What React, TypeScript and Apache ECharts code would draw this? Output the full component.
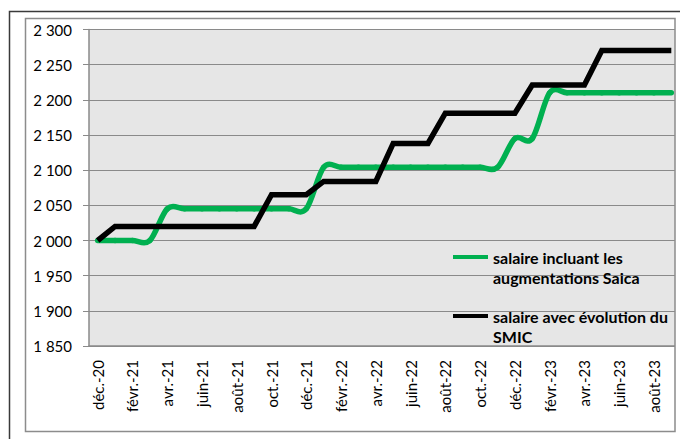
import React, { useEffect, useRef } from "react";
import * as echarts from "echarts";

const months = [
  "déc.-20", "janv.-21", "févr.-21", "mars-21", "avr.-21", "mai-21", "juin-21", "juil.-21",
  "août-21", "sept.-21", "oct.-21", "nov.-21", "déc.-21", "janv.-22", "févr.-22", "mars-22",
  "avr.-22", "mai-22", "juin-22", "juil.-22", "août-22", "sept.-22", "oct.-22", "nov.-22",
  "déc.-22", "janv.-23", "févr.-23", "mars-23", "avr.-23", "mai-23", "juin-23", "juil.-23",
  "août-23", "sept.-23",
];

const saicaName = "salaire incluant les augmentations Saica";
const smicName = "salaire avec évolution du SMIC";

const saica = [
  2000, 2000, 2000, 2000, 2045, 2045, 2045, 2045,
  2045, 2045, 2045, 2045, 2045, 2104, 2104, 2104,
  2104, 2104, 2104, 2104, 2104, 2104, 2104, 2104,
  2145, 2145, 2210, 2210, 2210, 2210, 2210, 2210,
  2210, 2210,
];

const smic = [
  2000, 2020, 2020, 2020, 2020, 2020, 2020, 2020,
  2020, 2020, 2065, 2065, 2065, 2084, 2084, 2084,
  2084, 2138, 2138, 2138, 2181, 2181, 2181, 2181,
  2181, 2221, 2221, 2221, 2221, 2270, 2270, 2270,
  2270, 2270,
];

const yMin = 1850;
const yMax = 2300;
const yStep = 50;

const legendLines: Record<string, string> = {
  [saicaName]: "salaire incluant les\naugmentations Saica",
  [smicName]: "salaire avec évolution du\nSMIC",
};

const FONT = "Lato";
const GREEN = "#00b050";

export default function App() {
  const ref = useRef<HTMLDivElement>(null);
  useEffect(() => {
    if (!ref.current) return;
    const chart = echarts.init(ref.current, null, { renderer: "svg" });
    const legendBase = {
      orient: "vertical",
      left: 453,
      padding: 0,
      itemWidth: 35,
      itemHeight: 4,
      icon: "rect",
      itemGap: 0,
      formatter: (n: string) => "\n" + legendLines[n],
      textStyle: {
        fontFamily: FONT,
        fontWeight: "bold",
        fontSize: 16,
        lineHeight: 20,
        color: "#000",
      },
    };
    const n = saica.length;
    chart.setOption({
      animation: false,
      backgroundColor: "#fff",
      textStyle: { fontFamily: FONT },
      grid: {
        left: 89,
        top: 29.5,
        width: 595,
        height: 316.5,
        show: true,
        backgroundColor: "#e6e6e6",
        borderWidth: 0,
      },
      legend: [
        { ...legendBase, top: 227, data: [saicaName] },
        { ...legendBase, top: 286, data: [smicName] },
      ],
      xAxis: {
        type: "category",
        data: months,
        boundaryGap: true,
        axisLine: { lineStyle: { color: "#8a8a8a", width: 1.5 } },
        axisTick: { interval: 1, length: 4, lineStyle: { color: "#8a8a8a" } },
        axisLabel: {
          interval: 1,
          rotate: 90,
          margin: 14,
          fontFamily: FONT,
          fontSize: 15,
          color: "#000",
        },
        splitLine: { show: false },
      },
      yAxis: {
        type: "value",
        min: yMin,
        max: yMax,
        interval: yStep,
        axisLine: { show: true, lineStyle: { color: "#8a8a8a", width: 1.5 } },
        axisTick: { show: true, length: 6, lineStyle: { color: "#8a8a8a" } },
        axisLabel: {
          margin: 17,
          fontFamily: FONT,
          fontSize: 15,
          color: "#000",
          formatter: (v: number) => String(v).replace(/\B(?=(\d{3})+(?!\d))/g, " "),
        },
        splitLine: { show: true, lineStyle: { color: "#8a8a8a", width: 1.2 } },
      },
      series: [
        {
          name: saicaName,
          type: "custom",
          data: saica.map((v, i) => [i, v]),
          encode: { x: 0, y: 1 },
          itemStyle: { color: GREEN },
          z: 2,
          renderItem: (params: any, api: any) => {
            const i = params.dataIndex;
            if (i >= n - 1) return null;
            const pt = (k: number) => {
              const kk = Math.max(0, Math.min(n - 1, k));
              return api.coord([kk, saica[kk]]);
            };
            const p0 = pt(i - 1);
            const p1 = pt(i);
            const p2 = pt(i + 1);
            const p3 = pt(i + 2);
            const t = 1 / 6;
            return {
              type: "bezierCurve",
              shape: {
                x1: p1[0],
                y1: p1[1],
                x2: p2[0],
                y2: p2[1],
                cpx1: p1[0] + (p2[0] - p0[0]) * t,
                cpy1: p1[1] + (p2[1] - p0[1]) * t,
                cpx2: p2[0] - (p3[0] - p1[0]) * t,
                cpy2: p2[1] - (p3[1] - p1[1]) * t,
              },
              style: {
                fill: null,
                stroke: GREEN,
                lineWidth: 5.5,
                lineCap: "round",
              },
            };
          },
        },
        {
          name: smicName,
          type: "line",
          data: smic,
          smooth: false,
          showSymbol: false,
          symbol: "none",
          z: 3,
          itemStyle: { color: "#000" },
          lineStyle: { color: "#000", width: 5.5, join: "miter" },
        },
      ],
      graphic: [
        {
          type: "rect",
          z: 100,
          shape: { x: 675, y: 14, width: 10, height: 430 },
          style: { fill: "#fff" },
        },
        {
          type: "rect",
          z: 101,
          shape: { x: 25.5, y: 18.5, width: 649.5, height: 413 },
          style: { fill: "none", stroke: "#8c8c8c", lineWidth: 1.5 },
        },
        {
          type: "rect",
          z: 102,
          shape: { x: 676, y: 18, width: 10, height: 420 },
          style: { fill: "#fff" },
        },
        {
          type: "polyline",
          z: 103,
          shape: { points: [[9.5, 440], [9.5, 11.5], [681, 11.5]] },
          style: { fill: "none", stroke: "#3a3a3a", lineWidth: 1.5 },
        },
      ],
    });
    return () => chart.dispose();
  }, []);
  return (
    <div
      ref={ref}
      style={{ position: "absolute", left: 0, top: 0, width: 680, height: 439 }}
    />
  );
}
